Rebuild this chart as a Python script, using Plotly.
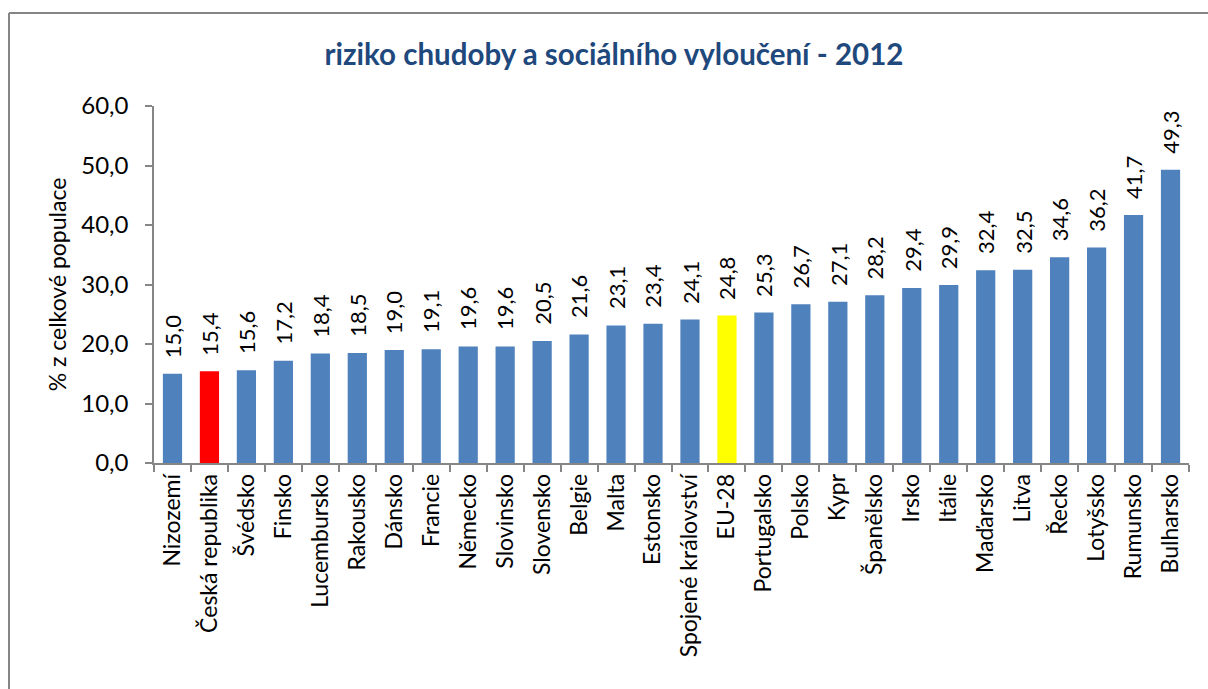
import plotly.graph_objects as go

categories = ["Nizozemí", "Česká republika", "Švédsko", "Finsko", "Lucembursko", "Rakousko",
              "Dánsko", "Francie", "Německo", "Slovinsko", "Slovensko", "Belgie", "Malta",
              "Estonsko", "Spojené království", "EU-28", "Portugalsko", "Polsko", "Kypr",
              "Španělsko", "Irsko", "Itálie", "Maďarsko", "Litva", "Řecko", "Lotyšsko",
              "Rumunsko", "Bulharsko"]
values = [15.0, 15.4, 15.6, 17.2, 18.4, 18.5, 19.0, 19.1, 19.6, 19.6, 20.5, 21.6, 23.1,
          23.4, 24.1, 24.8, 25.3, 26.7, 27.1, 28.2, 29.4, 29.9, 32.4, 32.5, 34.6, 36.2,
          41.7, 49.3]
highlight = {"Česká republika": "#FF0000", "EU-28": "#FFFF00"}
colors = [highlight.get(c, "#4F81BD") for c in categories]

FONT = "Lato, Carlito, Calibri, sans-serif"
W, H = 1208, 689
# plot area in page pixels: left 154, right 1189, top 106, bottom 463
ml, mt = 154, 106
mr = W - 1189
mb = H - 463
pw, ph = W - ml - mr, H - mt - mb

fig = go.Figure(go.Bar(
    x=categories, y=values, marker_color=colors,
    marker_line=dict(width=0),
    width=0.52, hoverinfo="x+y",
))

def fmt(v):
    return f"{v:.1f}".replace(".", ",")

for c, v in zip(categories, values):
    fig.add_annotation(x=c, y=v, text=fmt(v), textangle=-90, showarrow=False,
                       xanchor="center", yanchor="bottom", yshift=14,
                       font=dict(family=FONT, size=22, color="black"))

def px_x(p):
    return (p - ml) / pw

def px_y(p):
    return 1 - (p - mt) / ph

# chart-area border: only left and top edges are visible in the frame
border = dict(color="#868686", width=2)
fig.add_shape(type="line", xref="paper", yref="paper",
              x0=px_x(9), x1=px_x(9), y0=px_y(13), y1=px_y(760), line=border, layer="below")
fig.add_shape(type="line", xref="paper", yref="paper",
              x0=px_x(9), x1=px_x(1260), y0=px_y(13), y1=px_y(13), line=border, layer="below")

fig.update_layout(
    width=W, height=H,
    margin=dict(l=ml, r=mr, t=mt, b=mb),
    paper_bgcolor="white", plot_bgcolor="white",
    separators=", ",
    showlegend=False,
    bargap=0.48,
    title=dict(text="<b>riziko chudoby a sociálního vyloučení - 2012</b>",
               x=614 / W, xanchor="center", y=1 - 55 / H, yanchor="middle",
               font=dict(family=FONT, size=29.5, color="#1F497D")),
    font=dict(family=FONT, color="black"),
)
fig.update_yaxes(
    range=[0, 60], dtick=10, tickformat=".1f", showgrid=False,
    showline=True, linecolor="#868686", linewidth=1.5,
    ticks="outside", ticklen=7, tickcolor="#868686", tickwidth=1.5,
    tickfont=dict(family=FONT, size=24, color="black"),
    ticklabelstandoff=12,
    title=dict(text="% z celkové populace", font=dict(family=FONT, size=23, color="black"), standoff=8),
    zeroline=False,
)
fig.update_xaxes(
    showline=True, linecolor="#868686", linewidth=1.5,
    ticks="outside", ticklen=7, tickcolor="#868686", tickwidth=1.5,
    tickson="boundaries", tickangle=-90,
    tickfont=dict(family=FONT, size=23, color="black"),
    showgrid=False,
)

fig.write_html(
    "out.html",
    config={"displayModeBar": False},
    post_script="document.body.style.margin='0';document.documentElement.style.overflow='hidden';document.body.style.overflow='hidden';",
)
